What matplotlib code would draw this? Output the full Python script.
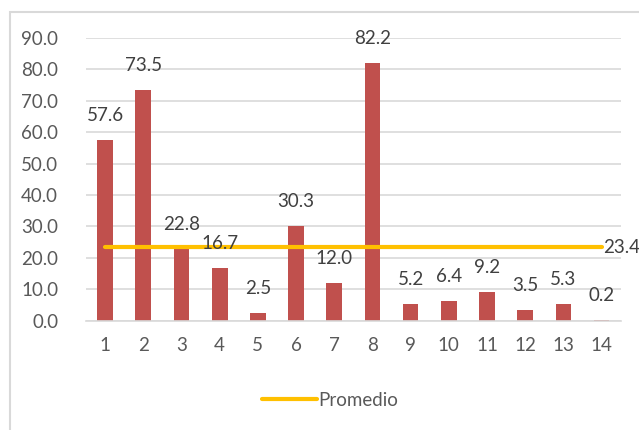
import matplotlib.pyplot as plt
from matplotlib.patches import Rectangle

# data
categories = list(range(1, 15))
values = [57.6, 73.5, 22.8, 16.7, 2.5, 30.3, 12.0, 82.2, 5.2, 6.4, 9.2, 3.5, 5.3, 0.2]
promedio = 23.4
yticks = [0, 10, 20, 30, 40, 50, 60, 70, 80, 90]

plt.rcParams['font.family'] = ['Lato', 'DejaVu Sans']

fig = plt.figure(figsize=(6.39, 4.30), dpi=100)
ax = fig.add_axes([0.1346, 0.2542, 0.8368, 0.6574])

# outer chart border (Excel style, cut by the image edge)
fig.patches.append(Rectangle((10 / 639, -0.05), 1.1, 1 - 12 / 430 + 0.05,
                             transform=fig.transFigure, fill=False,
                             edgecolor='#D9D9D9', linewidth=1.5))

ax.bar(categories, values, width=0.41, color='#C0504D', zorder=2)
for x, v in zip(categories, values):
    ax.annotate(f"{v:.1f}", (x, v), xytext=(0, 17.6), textcoords='offset points',
                ha='center', va='center', fontsize=13.5, color='#404040', zorder=4)

ax.plot([categories[0], categories[-1]], [promedio, promedio], color='#FFC000',
        linewidth=3, solid_capstyle='round', label='Promedio', zorder=3)
ax.text(categories[-1] + 0.05, promedio, f"{promedio:.1f}", ha='left', va='center',
        fontsize=13.5, color='#404040', zorder=4)

ax.set_xlim(0.5, 14.5)
ax.set_ylim(0, 90)
ax.set_yticks(yticks)
ax.set_yticklabels([f"{t:.1f}" for t in yticks])
ax.set_xticks(categories)
ax.tick_params(length=0, labelsize=13.5, labelcolor='#595959')
ax.tick_params(axis='y', pad=20)
ax.tick_params(axis='x', pad=12)
ax.grid(axis='y', color='#D9D9D9', linewidth=1.2, zorder=0)
ax.set_axisbelow(True)
for s in ['top', 'right', 'left']:
    ax.spines[s].set_visible(False)
ax.spines['bottom'].set_color('#D9D9D9')
ax.spines['bottom'].set_linewidth(1.2)

fig.legend(loc='center', bbox_to_anchor=(0.517, 1 - 400 / 430), frameon=False,
           fontsize=13.5, labelcolor='#595959', handlelength=2.9, handletextpad=0.1)

fig.savefig("out.png", dpi=100)
